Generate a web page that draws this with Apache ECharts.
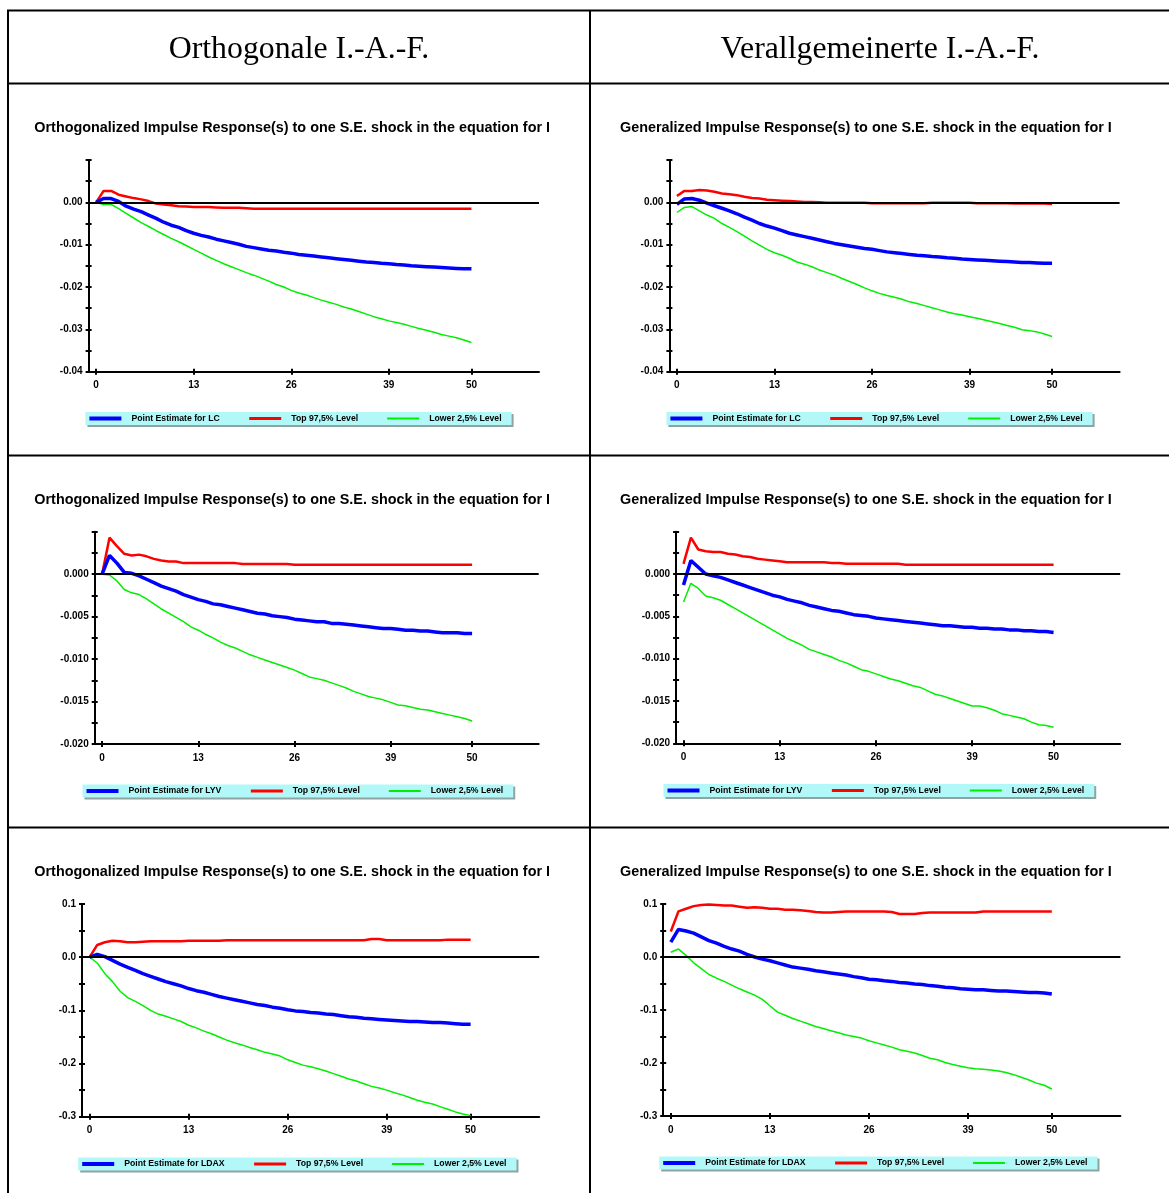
<!DOCTYPE html>
<html>
<head>
<meta charset="utf-8">
<script src="https://cdn.jsdelivr.net/npm/echarts@6/dist/echarts.min.js"></script>
<style>
html,body{margin:0;padding:0;background:#fff;}
#chart{width:1169px;height:1193px;}
</style>
</head>
<body>
<div id="chart"></div>
<script>
// ---------- data ----------
const steps = [0,1,2,3,4,5,6,7,8,9,10,11,12,13,14,15,16,17,18,19,20,21,22,23,24,25,26,27,28,29,30,31,32,33,34,35,36,37,38,39,40,41,42,43,44,45,46,47,48,49,50];
const xTickLabels = [0,13,26,39,50];
const lcTickLabels = [-0.04,-0.03,-0.02,-0.01,0.00];
const lyvTickLabels = [-0.020,-0.015,-0.010,-0.005,0.000];
const ldaxTickLabels = [-0.3,-0.2,-0.1,0.0,0.1];

const columnHeaders = ['Orthogonale I.-A.-F.', 'Verallgemeinerte I.-A.-F.'];
const titleOrth = 'Orthogonalized Impulse Response(s) to one S.E. shock in the equation for I';
const titleGen = 'Generalized Impulse Response(s) to one S.E. shock in the equation for I';
const nameUp = 'Top 97,5% Level';
const nameLo = 'Lower 2,5% Level';

// Orthogonalized, LC
const oLC_pt = [0,0.0009,0.0009,0.0002,-0.0009,-0.0016,-0.0022,-0.0030,-0.0038,-0.0047,
 -0.0054,-0.0059,-0.0067,-0.0073,-0.0078,-0.0082,-0.0087,-0.0091,-0.0095,-0.0099,
 -0.0104,-0.0107,-0.0110,-0.0113,-0.0115,-0.0118,-0.0120,-0.0123,-0.0125,-0.0127,
 -0.0129,-0.0131,-0.0133,-0.0135,-0.0137,-0.0139,-0.0141,-0.0142,-0.0144,-0.0145,
 -0.0147,-0.0148,-0.0150,-0.0151,-0.0152,-0.0153,-0.0154,-0.0155,-0.0156,-0.0157,-0.0157];
const oLC_up = [0,0.0027,0.0027,0.0018,0.0014,0.0010,0.0007,0.0003,-0.0003,-0.0005,
 -0.0007,-0.0009,-0.0010,-0.0011,-0.0011,-0.0011,-0.0012,-0.0013,-0.0013,-0.0013,
 -0.0014,-0.0015,-0.0015,-0.0015,-0.0015,-0.0015,-0.0015,-0.0015,-0.0015,-0.0015,
 -0.0015,-0.0015,-0.0015,-0.0015,-0.0015,-0.0015,-0.0015,-0.0015,-0.0015,-0.0015,
 -0.0015,-0.0015,-0.0015,-0.0015,-0.0015,-0.0015,-0.0015,-0.0015,-0.0015,-0.0015,-0.0015];
const oLC_lo = [0,-0.0005,-0.0005,-0.0015,-0.0026,-0.0037,-0.0048,-0.0057,-0.0067,-0.0076,
 -0.0085,-0.0093,-0.0102,-0.0111,-0.0120,-0.0129,-0.0137,-0.0145,-0.0152,-0.0159,
 -0.0166,-0.0172,-0.0179,-0.0186,-0.0194,-0.0200,-0.0208,-0.0214,-0.0219,-0.0225,
 -0.0231,-0.0236,-0.0241,-0.0247,-0.0252,-0.0258,-0.0264,-0.0270,-0.0275,-0.0280,
 -0.0284,-0.0288,-0.0293,-0.0298,-0.0302,-0.0307,-0.0312,-0.0316,-0.0320,-0.0325,-0.0331];

// Generalized, LC
const gLC_pt = [-0.0005,0.0008,0.0009,0.0005,-0.0002,-0.0008,-0.0014,-0.0020,-0.0027,-0.0035,
 -0.0042,-0.0050,-0.0056,-0.0061,-0.0067,-0.0073,-0.0077,-0.0081,-0.0085,-0.0089,
 -0.0093,-0.0097,-0.0100,-0.0103,-0.0106,-0.0109,-0.0111,-0.0114,-0.0117,-0.0119,
 -0.0121,-0.0123,-0.0125,-0.0126,-0.0128,-0.0129,-0.0131,-0.0132,-0.0134,-0.0135,
 -0.0136,-0.0137,-0.0138,-0.0139,-0.0140,-0.0141,-0.0142,-0.0142,-0.0143,-0.0144,-0.0144];
const gLC_up = [0.0015,0.0027,0.0027,0.0029,0.0028,0.0025,0.0021,0.0019,0.0017,0.0013,
 0.0010,0.0009,0.0006,0.0005,0.0004,0.0003,0.0002,0.0001,0.0001,0.0000,
 -0.0001,-0.0001,-0.0001,-0.0001,-0.0001,-0.0001,-0.0002,-0.0002,-0.0002,-0.0002,
 -0.0002,-0.0002,-0.0002,-0.0002,-0.0001,-0.0001,-0.0001,-0.0001,-0.0001,-0.0001,
 -0.0002,-0.0002,-0.0002,-0.0002,-0.0002,-0.0003,-0.0003,-0.0003,-0.0003,-0.0003,-0.0004];
const gLC_lo = [-0.0024,-0.0012,-0.0010,-0.0020,-0.0030,-0.0038,-0.0050,-0.0059,-0.0069,-0.0080,
 -0.0091,-0.0101,-0.0111,-0.0119,-0.0125,-0.0132,-0.0141,-0.0146,-0.0152,-0.0160,
 -0.0166,-0.0172,-0.0180,-0.0187,-0.0194,-0.0202,-0.0209,-0.0215,-0.0220,-0.0224,
 -0.0229,-0.0235,-0.0239,-0.0244,-0.0249,-0.0254,-0.0259,-0.0263,-0.0266,-0.0270,
 -0.0274,-0.0278,-0.0282,-0.0286,-0.0291,-0.0295,-0.0301,-0.0303,-0.0306,-0.0311,-0.0317];

// Orthogonalized, LYV
const oLYV_pt = [0,0.0022,0.0013,0.0002,0.0001,-0.0002,-0.0006,-0.0010,-0.0014,-0.0017,
 -0.0020,-0.0024,-0.0027,-0.0030,-0.0032,-0.0035,-0.0036,-0.0038,-0.0040,-0.0042,
 -0.0044,-0.0046,-0.0047,-0.0049,-0.0050,-0.0051,-0.0053,-0.0054,-0.0055,-0.0056,
 -0.0056,-0.0058,-0.0058,-0.0059,-0.0060,-0.0061,-0.0062,-0.0063,-0.0064,-0.0064,
 -0.0065,-0.0066,-0.0066,-0.0067,-0.0067,-0.0068,-0.0069,-0.0069,-0.0069,-0.0070,-0.0070];
const oLYV_up = [0,0.0043,0.0033,0.0024,0.0022,0.0023,0.0021,0.0018,0.0016,0.0015,
 0.0015,0.0013,0.0013,0.0013,0.0013,0.0013,0.0013,0.0013,0.0013,0.0012,
 0.0012,0.0012,0.0012,0.0012,0.0012,0.0012,0.0011,0.0011,0.0011,0.0011,
 0.0011,0.0011,0.0011,0.0011,0.0011,0.0011,0.0011,0.0011,0.0011,0.0011,
 0.0011,0.0011,0.0011,0.0011,0.0011,0.0011,0.0011,0.0011,0.0011,0.0011,0.0011];
const oLYV_lo = [0,-0.0001,-0.0008,-0.0018,-0.0022,-0.0024,-0.0029,-0.0035,-0.0041,-0.0046,
 -0.0051,-0.0056,-0.0062,-0.0066,-0.0071,-0.0075,-0.0080,-0.0084,-0.0087,-0.0091,
 -0.0095,-0.0098,-0.0101,-0.0104,-0.0107,-0.0110,-0.0113,-0.0117,-0.0121,-0.0123,
 -0.0125,-0.0128,-0.0131,-0.0134,-0.0138,-0.0141,-0.0144,-0.0146,-0.0148,-0.0151,
 -0.0154,-0.0155,-0.0157,-0.0159,-0.0160,-0.0162,-0.0164,-0.0166,-0.0168,-0.0170,-0.0173];

// Generalized, LYV
const gLYV_pt = [-0.0013,0.0016,0.0008,0.0000,-0.0002,-0.0004,-0.0007,-0.0010,-0.0013,-0.0016,
 -0.0019,-0.0022,-0.0025,-0.0027,-0.0030,-0.0032,-0.0034,-0.0037,-0.0039,-0.0041,
 -0.0043,-0.0044,-0.0046,-0.0048,-0.0049,-0.0050,-0.0052,-0.0053,-0.0054,-0.0055,
 -0.0056,-0.0057,-0.0058,-0.0059,-0.0060,-0.0061,-0.0061,-0.0062,-0.0063,-0.0063,
 -0.0064,-0.0064,-0.0065,-0.0065,-0.0066,-0.0066,-0.0067,-0.0067,-0.0068,-0.0068,-0.0069];
const gLYV_up = [0.0012,0.0043,0.0029,0.0027,0.0026,0.0026,0.0024,0.0023,0.0021,0.0020,
 0.0018,0.0017,0.0016,0.0015,0.0014,0.0014,0.0014,0.0014,0.0014,0.0014,
 0.0013,0.0013,0.0012,0.0012,0.0012,0.0012,0.0012,0.0012,0.0012,0.0012,
 0.0011,0.0011,0.0011,0.0011,0.0011,0.0011,0.0011,0.0011,0.0011,0.0011,
 0.0011,0.0011,0.0011,0.0011,0.0011,0.0011,0.0011,0.0011,0.0011,0.0011,0.0011];
const gLYV_lo = [-0.0033,-0.0011,-0.0017,-0.0026,-0.0028,-0.0031,-0.0036,-0.0041,-0.0046,-0.0051,
 -0.0056,-0.0061,-0.0066,-0.0071,-0.0076,-0.0080,-0.0084,-0.0089,-0.0092,-0.0095,
 -0.0098,-0.0102,-0.0105,-0.0109,-0.0113,-0.0115,-0.0118,-0.0121,-0.0124,-0.0126,
 -0.0129,-0.0132,-0.0134,-0.0138,-0.0142,-0.0144,-0.0147,-0.0150,-0.0153,-0.0156,
 -0.0156,-0.0158,-0.0161,-0.0165,-0.0167,-0.0169,-0.0171,-0.0175,-0.0178,-0.0179,-0.0181];

// Orthogonalized, LDAX
const oLDAX_pt = [0,0.005,0.001,-0.006,-0.013,-0.019,-0.025,-0.031,-0.036,-0.041,
 -0.046,-0.050,-0.054,-0.059,-0.063,-0.066,-0.070,-0.074,-0.077,-0.080,
 -0.083,-0.086,-0.089,-0.091,-0.094,-0.096,-0.099,-0.101,-0.102,-0.104,
 -0.105,-0.107,-0.108,-0.110,-0.112,-0.113,-0.115,-0.116,-0.117,-0.118,
 -0.119,-0.120,-0.121,-0.121,-0.122,-0.123,-0.123,-0.124,-0.125,-0.126,-0.126];
const oLDAX_up = [0,0.023,0.028,0.031,0.030,0.028,0.028,0.029,0.030,0.030,
 0.030,0.030,0.030,0.031,0.031,0.031,0.031,0.031,0.032,0.032,
 0.032,0.032,0.032,0.032,0.032,0.032,0.032,0.032,0.032,0.032,
 0.032,0.032,0.032,0.032,0.032,0.032,0.032,0.034,0.034,0.032,
 0.032,0.032,0.032,0.032,0.032,0.032,0.032,0.033,0.033,0.033,0.033];
const oLDAX_lo = [0,-0.011,-0.031,-0.046,-0.064,-0.076,-0.083,-0.091,-0.100,-0.107,
 -0.111,-0.116,-0.121,-0.128,-0.133,-0.139,-0.144,-0.150,-0.156,-0.161,
 -0.165,-0.170,-0.174,-0.179,-0.182,-0.186,-0.193,-0.198,-0.203,-0.206,
 -0.210,-0.214,-0.219,-0.224,-0.229,-0.233,-0.238,-0.243,-0.246,-0.250,
 -0.255,-0.259,-0.264,-0.269,-0.273,-0.276,-0.281,-0.286,-0.291,-0.295,-0.298];

// Generalized, LDAX
const gLDAX_pt = [0.028,0.052,0.049,0.045,0.038,0.031,0.026,0.020,0.015,0.011,
 0.005,0.000,-0.004,-0.007,-0.011,-0.015,-0.019,-0.021,-0.023,-0.026,
 -0.028,-0.030,-0.032,-0.034,-0.037,-0.039,-0.042,-0.043,-0.045,-0.046,
 -0.048,-0.049,-0.051,-0.052,-0.054,-0.055,-0.057,-0.058,-0.060,-0.061,
 -0.062,-0.062,-0.063,-0.064,-0.064,-0.065,-0.066,-0.067,-0.067,-0.068,-0.070];
const gLDAX_up = [0.048,0.086,0.091,0.096,0.098,0.099,0.098,0.097,0.097,0.095,
 0.093,0.094,0.093,0.091,0.091,0.089,0.089,0.088,0.087,0.085,
 0.084,0.084,0.085,0.086,0.086,0.086,0.086,0.086,0.086,0.085,
 0.081,0.081,0.081,0.083,0.084,0.084,0.084,0.084,0.084,0.084,
 0.084,0.086,0.086,0.086,0.086,0.086,0.086,0.086,0.086,0.086,0.086];
const gLDAX_lo = [0.009,0.015,0.003,-0.011,-0.022,-0.033,-0.040,-0.046,-0.053,-0.060,
 -0.066,-0.072,-0.080,-0.092,-0.104,-0.110,-0.116,-0.121,-0.126,-0.131,
 -0.135,-0.139,-0.143,-0.147,-0.150,-0.153,-0.158,-0.162,-0.166,-0.170,
 -0.175,-0.178,-0.181,-0.186,-0.191,-0.194,-0.199,-0.203,-0.206,-0.209,
 -0.211,-0.212,-0.213,-0.215,-0.218,-0.222,-0.227,-0.232,-0.238,-0.242,-0.249];

// ---------- layout ----------
const FONT = '"Liberation Sans", Arial, Helvetica, sans-serif';
const SERIF = '"Liberation Serif", "Times New Roman", serif';
const C_PT = '#0000ff', C_UP = '#ff0000', C_LO = '#00ee00';

const panels = [
  {title: titleOrth, ptName: 'Point Estimate for LC', pt: oLC_pt, up: oLC_up, lo: oLC_lo,
   yMin: -0.04, yMax: 0.01, yInt: 0.005, yLabels: lcTickLabels, dec: 2,
   titlePos: [34.3, 128], grid: {left: 88.6, top: 160, width: 450.4, height: 211.7}, legendPos: [85.4, 412]},
  {title: titleGen, ptName: 'Point Estimate for LC', pt: gLC_pt, up: gLC_up, lo: gLC_lo,
   yMin: -0.04, yMax: 0.01, yInt: 0.005, yLabels: lcTickLabels, dec: 2,
   titlePos: [620, 128], grid: {left: 669.4, top: 160, width: 450.2, height: 211.7}, legendPos: [666.4, 412]},
  {title: titleOrth, ptName: 'Point Estimate for LYV', pt: oLYV_pt, up: oLYV_up, lo: oLYV_lo,
   yMin: -0.02, yMax: 0.005, yInt: 0.0025, yLabels: lyvTickLabels, dec: 3,
   titlePos: [34.3, 500], grid: {left: 94.7, top: 531.7, width: 444, height: 212.3}, legendPos: [82.5, 784.5]},
  {title: titleGen, ptName: 'Point Estimate for LYV', pt: gLYV_pt, up: gLYV_up, lo: gLYV_lo,
   yMin: -0.02, yMax: 0.005, yInt: 0.0025, yLabels: lyvTickLabels, dec: 3,
   titlePos: [620, 500], grid: {left: 676.1, top: 531.7, width: 444.1, height: 211.6}, legendPos: [663.5, 784]},
  {title: titleOrth, ptName: 'Point Estimate for LDAX', pt: oLDAX_pt, up: oLDAX_up, lo: oLDAX_lo,
   yMin: -0.3, yMax: 0.1, yInt: 0.05, yLabels: ldaxTickLabels, dec: 1,
   titlePos: [34.3, 872], grid: {left: 82.0, top: 904, width: 457.2, height: 212.7}, legendPos: [78.2, 1157.5]},
  {title: titleGen, ptName: 'Point Estimate for LDAX', pt: gLDAX_pt, up: gLDAX_up, lo: gLDAX_lo,
   yMin: -0.3, yMax: 0.1, yInt: 0.05, yLabels: ldaxTickLabels, dec: 1,
   titlePos: [620, 872], grid: {left: 663.2, top: 904, width: 457.2, height: 212}, legendPos: [659.2, 1156.5]}
];

const toPairs = arr => steps.map((s, k) => [s, arr[k]]);

const option = {
  animation: false,
  backgroundColor: '#fff',
  title: [], grid: [], xAxis: [], yAxis: [], legend: [], series: [],
  graphic: []
};

// table lines
const tableLines = [
  [7, 10.5, 1169, 10.5], [7, 83.5, 1169, 83.5], [7, 455.5, 1169, 455.5], [7, 827.5, 1169, 827.5],
  [8, 10, 8, 1193], [590, 10, 590, 1193]
];
tableLines.forEach(l => option.graphic.push({
  type: 'line', silent: true,
  shape: {x1: l[0], y1: l[1], x2: l[2], y2: l[3]},
  style: {stroke: '#000', lineWidth: 2}
}));
[[299, 49.5], [880, 49.5]].forEach((p, i) => option.graphic.push({
  type: 'text', silent: true, x: p[0], y: p[1],
  style: {text: columnHeaders[i], fontFamily: SERIF, fontSize: 31.8, fill: '#000',
          align: 'center', verticalAlign: 'middle'}
}));

panels.forEach((p, i) => {
  option.title.push({
    text: p.title, left: p.titlePos[0], top: p.titlePos[1] - 8, padding: 0,
    textStyle: {fontFamily: FONT, fontSize: 14.4, fontWeight: 'bold', color: '#000', lineHeight: 16}
  });
  option.grid.push(Object.assign({containLabel: false}, p.grid));
  const axisBase = {gridIndex: i, type: 'value', splitLine: {show: false}};
  option.xAxis.push(Object.assign({}, axisBase, {
    min: -1, max: 59, position: 'bottom',
    axisLine: {show: true, onZero: false, lineStyle: {color: '#000', width: 2}},
    axisTick: {show: true, inside: false, length: 3, customValues: xTickLabels, lineStyle: {color: '#000', width: 2}},
    axisLabel: {show: true, customValues: xTickLabels, margin: 9, fontFamily: FONT, fontSize: 10, fontWeight: 'bold', color: '#000'}
  }));
  option.xAxis.push(Object.assign({}, axisBase, {
    min: -1, max: 59, position: 'bottom',
    axisLine: {show: false, onZero: false},
    axisTick: {show: true, inside: true, length: 3, customValues: xTickLabels, lineStyle: {color: '#000', width: 2}},
    axisLabel: {show: false}
  }));
  const dec = p.dec;
  option.yAxis.push(Object.assign({}, axisBase, {
    min: p.yMin, max: p.yMax, interval: p.yInt, position: 'left',
    axisLine: {show: true, onZero: false, lineStyle: {color: '#000', width: 2}},
    axisTick: {show: true, inside: false, length: 3, lineStyle: {color: '#000', width: 2}},
    axisLabel: {show: true, customValues: p.yLabels, margin: 6, fontFamily: FONT, fontSize: 10, fontWeight: 'bold', color: '#000',
      padding: [2, 0, 0, 0],
      formatter: v => (Math.abs(v) < 1e-12 ? 0 : v).toFixed(dec)}
  }));
  option.yAxis.push(Object.assign({}, axisBase, {
    min: p.yMin, max: p.yMax, interval: p.yInt, position: 'left',
    axisLine: {show: false, onZero: false},
    axisTick: {show: true, inside: true, length: 3, lineStyle: {color: '#000', width: 2}},
    axisLabel: {show: false}
  }));
  const xi = 2 * i, yi = 2 * i;
  option.series.push({
    type: 'line', name: nameLo, xAxisIndex: xi, yAxisIndex: yi, data: toPairs(p.lo),
    symbol: 'none', color: C_LO, lineStyle: {color: C_LO, width: 1.5}, z: 2,
    markLine: {silent: true, symbol: 'none', label: {show: false}, animation: false,
      lineStyle: {color: '#000', width: 2, type: 'solid'}, data: [{yAxis: 0}]}
  });
  option.series.push({
    type: 'line', name: nameUp, xAxisIndex: xi, yAxisIndex: yi, data: toPairs(p.up),
    symbol: 'none', color: C_UP, lineStyle: {color: C_UP, width: 2.5}, z: 3
  });
  option.series.push({
    type: 'line', name: p.ptName, xAxisIndex: xi, yAxisIndex: yi, data: toPairs(p.pt),
    symbol: 'none', color: C_PT, lineStyle: {color: C_PT, width: 3.5}, z: 4
  });
  option.legend.push({
    left: p.legendPos[0], top: p.legendPos[1], orient: 'horizontal',
    padding: [2, 10, 2, 2], itemGap: 28, itemWidth: 32, itemHeight: 11,
    backgroundColor: '#b2f8f8', borderWidth: 0,
    shadowColor: '#8fa3a3', shadowOffsetX: 2, shadowOffsetY: 2, shadowBlur: 0,
    selectedMode: false,
    textStyle: {fontFamily: FONT, fontSize: 8.7, fontWeight: 'bold', color: '#000', padding: [0, 0, 0, 5]},
    data: [
      {name: p.ptName, lineStyle: {width: 4}, itemStyle: {opacity: 0}},
      {name: nameUp, lineStyle: {width: 3}, itemStyle: {opacity: 0}},
      {name: nameLo, lineStyle: {width: 2}, itemStyle: {opacity: 0}}
    ]
  });
});

const chart = echarts.init(document.getElementById('chart'), null, {renderer: 'canvas'});
chart.setOption(option);
</script>
</body>
</html>
